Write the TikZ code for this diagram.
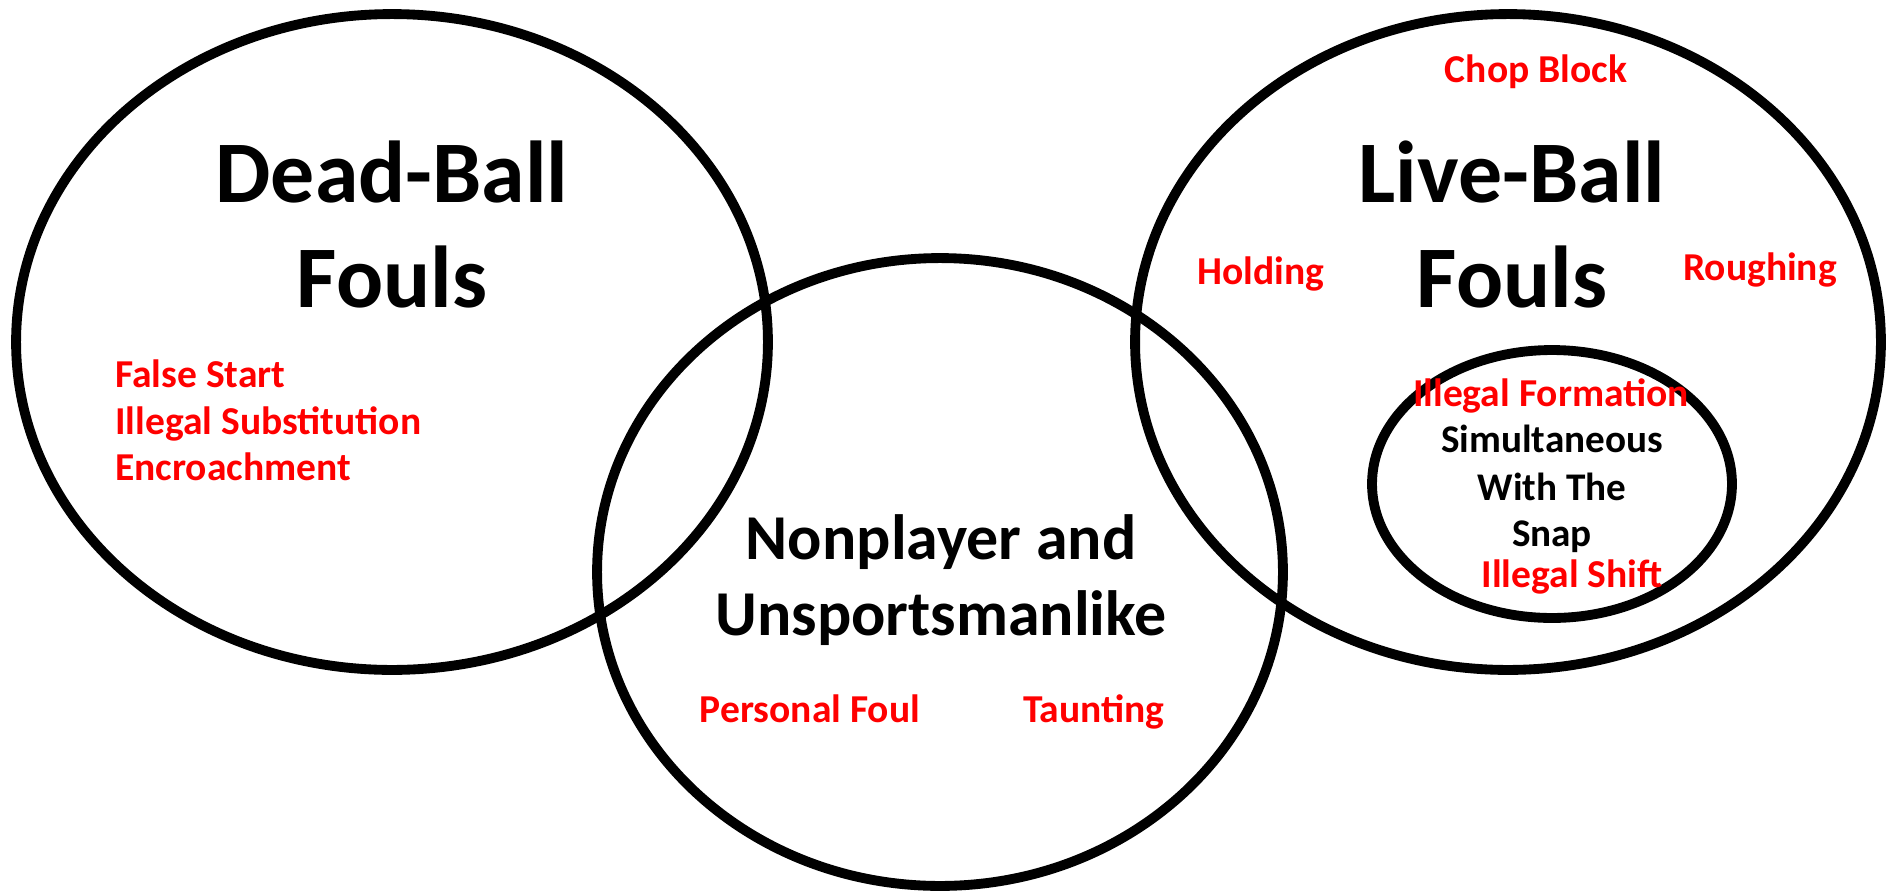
\documentclass[tikz,border=0pt]{standalone}
\usepackage{fontspec}
\setmainfont{Carlito}
\begin{document}
\begin{tikzpicture}[x=0.02cm,y=-0.02cm,
  ring/.style={draw=black,line width=5.6pt},
  bigtitle/.style={font=\bfseries\fontsize{50pt}{60pt}\selectfont,anchor=base,inner sep=0pt},
  midtitle/.style={font=\bfseries\fontsize{36.4pt}{44pt}\selectfont,anchor=base,inner sep=0pt},
  foul/.style={font=\bfseries\fontsize{22.5pt}{27pt}\selectfont,text=red,anchor=base,inner sep=0pt},
  snaptxt/.style={font=\bfseries\fontsize{22.3pt}{27pt}\selectfont,text=black,anchor=base,inner sep=0pt}]
\useasboundingbox (0,0) rectangle (1904,890);
% circles
\draw[ring] (392,342) ellipse [x radius=7.52cm, y radius=6.56cm];
\draw[ring] (940,572) ellipse [x radius=6.86cm, y radius=6.28cm];
\draw[ring] (1508,342) ellipse [x radius=7.46cm, y radius=6.56cm];
\draw[ring] (1552,484) ellipse [x radius=3.6cm, y radius=2.68cm];
% titles
\node[bigtitle] (db1) at (392,202) {Dead-Ball};
\node[bigtitle] (db2) at (392,307) {Fouls};
\node[bigtitle] (lb1) at (1512,202) {Live-Ball};
\node[bigtitle] (lb2) at (1512,307) {Fouls};
\node[midtitle] (np1) at (941,559) {Nonplayer and};
\node[midtitle] (np2) at (941,635) {Unsportsmanlike};
% dead ball fouls
\node[foul,anchor=base west] (fs) at (115,387) {False Start};
\node[foul,anchor=base west] (is) at (115,434) {Illegal Substitution};
\node[foul,anchor=base west] (en) at (115,480) {Encroachment};
% live ball fouls
\node[foul] (cb) at (1536,82) {Chop Block};
\node[foul] (ho) at (1261,284) {Holding};
\node[foul] (ro) at (1760,280) {Roughing};
\node[foul] (if) at (1551,406) {Illegal Formation};
\node[snaptxt] (s1) at (1552,452) {Simultaneous};
\node[snaptxt] (s2) at (1552,500) {With The};
\node[snaptxt] (s3) at (1552,546) {Snap};
\node[foul] (ish) at (1572,587) {Illegal Shift};
% nonplayer
\node[foul] (pf) at (810,722) {Personal Foul};
\node[foul] (ta) at (1094,722) {Taunting};
\end{tikzpicture}
\end{document}
